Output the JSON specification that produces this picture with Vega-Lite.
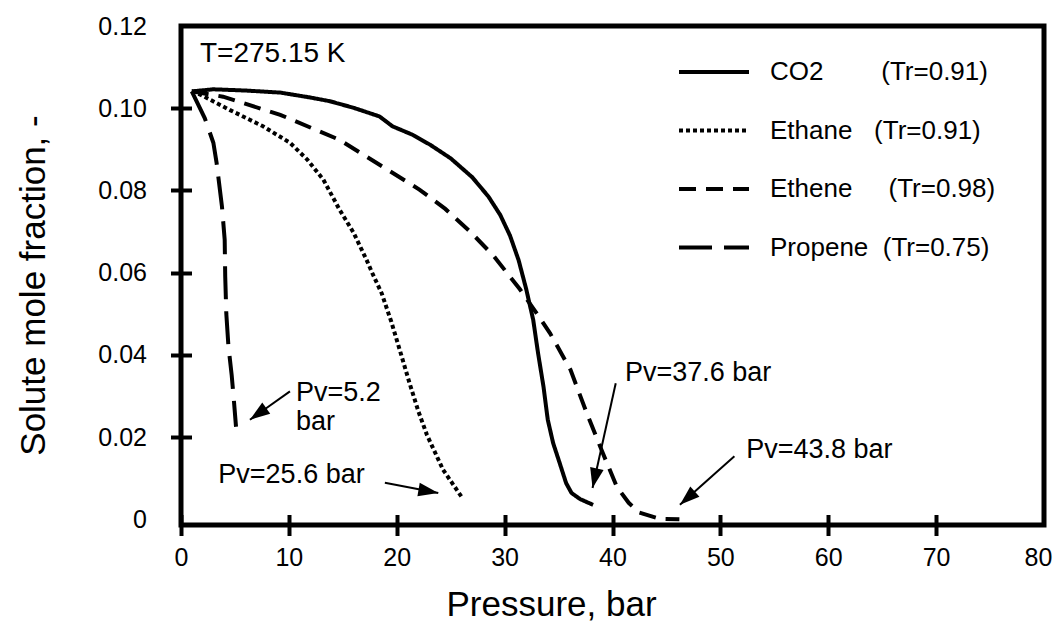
{
  "$schema": "https://vega.github.io/schema/vega-lite/v6.json",
  "width": 863,
  "height": 499,
  "autosize": {"type": "none"},
  "padding": {"left": 181, "top": 26, "right": 12, "bottom": 109},
  "background": "white",
  "config": {"view": {"stroke": "black", "strokeWidth": 5}, "font": "Liberation Sans"},
  "datasets": {
    "curves": [
      {"s": "CO2", "P": 1.0, "f": 0.1041}, {"s": "CO2", "P": 3.0, "f": 0.1046}, {"s": "CO2", "P": 6.0, "f": 0.1043}, {"s": "CO2", "P": 9.2, "f": 0.1038}, {"s": "CO2", "P": 12.0, "f": 0.1026}, {"s": "CO2", "P": 13.8, "f": 0.1017}, {"s": "CO2", "P": 16.0, "f": 0.1001}, {"s": "CO2", "P": 18.4, "f": 0.098}, {"s": "CO2", "P": 19.6, "f": 0.0956}, {"s": "CO2", "P": 21.5, "f": 0.0935}, {"s": "CO2", "P": 23.1, "f": 0.0911}, {"s": "CO2", "P": 25.0, "f": 0.0878}, {"s": "CO2", "P": 27.0, "f": 0.0832}, {"s": "CO2", "P": 28.5, "f": 0.0785}, {"s": "CO2", "P": 29.6, "f": 0.074}, {"s": "CO2", "P": 30.5, "f": 0.069}, {"s": "CO2", "P": 31.3, "f": 0.063}, {"s": "CO2", "P": 32.0, "f": 0.056}, {"s": "CO2", "P": 32.65, "f": 0.0485}, {"s": "CO2", "P": 33.1, "f": 0.0404}, {"s": "CO2", "P": 33.6, "f": 0.0323}, {"s": "CO2", "P": 34.0, "f": 0.0242}, {"s": "CO2", "P": 34.5, "f": 0.0185}, {"s": "CO2", "P": 35.1, "f": 0.0137}, {"s": "CO2", "P": 35.7, "f": 0.0088}, {"s": "CO2", "P": 36.2, "f": 0.0064}, {"s": "CO2", "P": 37.0, "f": 0.0049}, {"s": "CO2", "P": 38.2, "f": 0.0035},
      {"s": "Ethane", "P": 1.0, "f": 0.1041}, {"s": "Ethane", "P": 1.8, "f": 0.1033}, {"s": "Ethane", "P": 4.5, "f": 0.0996}, {"s": "Ethane", "P": 7.6, "f": 0.0956}, {"s": "Ethane", "P": 10.1, "f": 0.0916}, {"s": "Ethane", "P": 11.7, "f": 0.0875}, {"s": "Ethane", "P": 13.2, "f": 0.0826}, {"s": "Ethane", "P": 14.7, "f": 0.0753}, {"s": "Ethane", "P": 16.0, "f": 0.0697}, {"s": "Ethane", "P": 17.2, "f": 0.0631}, {"s": "Ethane", "P": 17.8, "f": 0.0595}, {"s": "Ethane", "P": 18.6, "f": 0.055}, {"s": "Ethane", "P": 19.5, "f": 0.048}, {"s": "Ethane", "P": 20.3, "f": 0.041}, {"s": "Ethane", "P": 21.2, "f": 0.033}, {"s": "Ethane", "P": 22.0, "f": 0.0263}, {"s": "Ethane", "P": 22.8, "f": 0.0205}, {"s": "Ethane", "P": 24.3, "f": 0.012}, {"s": "Ethane", "P": 26.0, "f": 0.0055},
      {"s": "Ethene", "P": 1.0, "f": 0.1041}, {"s": "Ethene", "P": 3.9, "f": 0.1028}, {"s": "Ethene", "P": 9.2, "f": 0.0984}, {"s": "Ethene", "P": 14.7, "f": 0.0923}, {"s": "Ethene", "P": 19.6, "f": 0.0843}, {"s": "Ethene", "P": 22.1, "f": 0.0802}, {"s": "Ethene", "P": 24.5, "f": 0.0755}, {"s": "Ethene", "P": 26.8, "f": 0.07}, {"s": "Ethene", "P": 29.0, "f": 0.064}, {"s": "Ethene", "P": 31.4, "f": 0.056}, {"s": "Ethene", "P": 33.0, "f": 0.05}, {"s": "Ethene", "P": 34.2, "f": 0.0453}, {"s": "Ethene", "P": 36.1, "f": 0.0364}, {"s": "Ethene", "P": 37.6, "f": 0.0259}, {"s": "Ethene", "P": 39.1, "f": 0.0161}, {"s": "Ethene", "P": 40.4, "f": 0.0079}, {"s": "Ethene", "P": 41.5, "f": 0.004}, {"s": "Ethene", "P": 42.5, "f": 0.0016}, {"s": "Ethene", "P": 44.4, "f": 0.0001}, {"s": "Ethene", "P": 46.2, "f": 0.0},
      {"s": "Propene", "P": 1.0, "f": 0.1041}, {"s": "Propene", "P": 2.2, "f": 0.0976}, {"s": "Propene", "P": 3.0, "f": 0.0916}, {"s": "Propene", "P": 3.3, "f": 0.0867}, {"s": "Propene", "P": 3.8, "f": 0.076}, {"s": "Propene", "P": 4.05, "f": 0.068}, {"s": "Propene", "P": 4.1, "f": 0.059}, {"s": "Propene", "P": 4.2, "f": 0.05}, {"s": "Propene", "P": 4.4, "f": 0.042}, {"s": "Propene", "P": 4.7, "f": 0.035}, {"s": "Propene", "P": 4.9, "f": 0.029}, {"s": "Propene", "P": 5.1, "f": 0.0225}
    ],
    "labels": [
      {"id": "T", "P": 1.76, "f": 0.1131, "t": "T=275.15 K"},
      {"id": "a1", "P": 10.66, "f": 0.0306, "t": "Pv=5.2"},
      {"id": "a1b", "P": 10.66, "f": 0.0236, "t": "bar"},
      {"id": "a2", "P": 3.46, "f": 0.0108, "t": "Pv=25.6 bar"},
      {"id": "a3", "P": 41.15, "f": 0.0356, "t": "Pv=37.6 bar"},
      {"id": "a4", "P": 52.4, "f": 0.0169, "t": "Pv=43.8 bar"}
    ],
    "arrows": [
      {"id": "a1", "P": 10.1, "f": 0.0311, "P2": 6.39, "f2": 0.0242},
      {"id": "a2", "P": 18.9, "f": 0.0089, "P2": 23.85, "f2": 0.0064},
      {"id": "a3", "P": 40.3, "f": 0.0331, "P2": 38.15, "f2": 0.0076},
      {"id": "a4", "P": 51.3, "f": 0.0153, "P2": 46.25, "f2": 0.0035}
    ]
  },
  "layer": [
    {
      "data": {"name": "curves"},
      "mark": {"type": "line", "strokeWidth": 4, "color": "black", "strokeCap": "butt"},
      "encoding": {
        "x": {
          "field": "P", "type": "quantitative",
          "scale": {"domain": [0, 80], "nice": false},
          "axis": {
            "title": "Pressure, bar", "values": [0, 10, 20, 30, 40, 50, 60, 70, 80],
            "domain": false, "offset": -10.5, "tickSize": 21, "tickWidth": 4, "tickColor": "black",
            "tickOpacity": {"condition": {"test": "datum.value == 80", "value": 0}, "value": 1},
            "labelOffset": {"condition": {"test": "datum.value == 80", "value": -6}, "value": 0},
            "labelFontSize": 25, "labelColor": "black", "labelPadding": 10, "labelFont": "Liberation Sans",
            "labelFlush": false, "labelOverlap": false, "grid": false,
            "titleFontSize": 35, "titleFontWeight": "normal", "titleColor": "black", "titleFont": "Liberation Sans",
            "titleX": 370, "titleY": 90, "titleBaseline": "middle", "titleAlign": "center"
          }
        },
        "y": {
          "field": "f", "type": "quantitative",
          "scale": {"domain": [-0.0014, 0.12], "nice": false, "zero": false},
          "axis": {
            "title": "Solute mole fraction, -", "values": [0, 0.02, 0.04, 0.06, 0.08, 0.1, 0.12],
            "labelExpr": "datum.value == 0 ? '0' : format(datum.value, '.2f')",
            "domain": false, "offset": -10.5, "tickSize": 21, "tickWidth": 4, "tickColor": "black",
            "tickOpacity": {"condition": {"test": "datum.value == 0 || datum.value > 0.11", "value": 0}, "value": 1},
            "labelFontSize": 25, "labelColor": "black", "labelPadding": 24, "labelFont": "Liberation Sans",
            "labelFlush": false, "labelOverlap": false, "grid": false,
            "titleFontSize": 35, "titleFontWeight": "normal", "titleColor": "black", "titleFont": "Liberation Sans",
            "titleX": -158.5, "titleY": 259, "titleAngle": -90, "titleBaseline": "middle", "titleAlign": "center"
          }
        },
        "strokeDash": {
          "field": "s", "type": "nominal",
          "scale": {"domain": ["CO2", "Ethane", "Ethene", "Propene"], "range": [[1, 0], [4, 3], [17, 10], [33, 12]]},
          "legend": {
            "orient": "none", "legendX": 513.5, "legendY": 26.5, "title": null, "padding": 0,
            "symbolType": "M-2,0L2,0", "symbolSize": 1225, "symbolStrokeWidth": 4,
            "symbolStrokeColor": "black", "symbolFillColor": "transparent",
            "labelFontSize": 26, "labelColor": "black", "labelFont": "Liberation Sans",
            "labelOffset": 36.5, "rowPadding": 25.5, "labelLimit": 400,
            "labelExpr": "datum.label == 'CO2' ? 'CO2\u00a0\u00a0\u00a0\u00a0\u00a0\u00a0\u00a0\u00a0(Tr=0.91)' : datum.label == 'Ethane' ? 'Ethane\u00a0\u00a0\u00a0(Tr=0.91)' : datum.label == 'Ethene' ? 'Ethene\u00a0\u00a0\u00a0\u00a0\u00a0(Tr=0.98)' : 'Propene\u00a0\u00a0(Tr=0.75)'"
          }
        }
      }
    },
    {
      "data": {"name": "arrows"},
      "mark": {"type": "rule", "strokeWidth": 2, "color": "black"},
      "encoding": {
        "x": {"field": "P", "type": "quantitative"},
        "y": {"field": "f", "type": "quantitative"},
        "x2": {"field": "P2"},
        "y2": {"field": "f2"}
      }
    },
    {
      "data": {"name": "arrows"},
      "transform": [{"filter": "datum.id == 'a1'"}],
      "mark": {"type": "point", "shape": "M0,0L0.55,1.6L-0.55,1.6Z", "size": 625, "filled": true, "color": "black", "opacity": 1, "angle": 234.7},
      "encoding": {"x": {"field": "P2", "type": "quantitative"}, "y": {"field": "f2", "type": "quantitative"}}
    },
    {
      "data": {"name": "arrows"},
      "transform": [{"filter": "datum.id == 'a2'"}],
      "mark": {"type": "point", "shape": "M0,0L0.55,1.6L-0.55,1.6Z", "size": 625, "filled": true, "color": "black", "opacity": 1, "angle": 99.8},
      "encoding": {"x": {"field": "P2", "type": "quantitative"}, "y": {"field": "f2", "type": "quantitative"}}
    },
    {
      "data": {"name": "arrows"},
      "transform": [{"filter": "datum.id == 'a3'"}],
      "mark": {"type": "point", "shape": "M0,0L0.55,1.6L-0.55,1.6Z", "size": 625, "filled": true, "color": "black", "opacity": 1, "angle": 192.5},
      "encoding": {"x": {"field": "P2", "type": "quantitative"}, "y": {"field": "f2", "type": "quantitative"}}
    },
    {
      "data": {"name": "arrows"},
      "transform": [{"filter": "datum.id == 'a4'"}],
      "mark": {"type": "point", "shape": "M0,0L0.55,1.6L-0.55,1.6Z", "size": 625, "filled": true, "color": "black", "opacity": 1, "angle": 228.4},
      "encoding": {"x": {"field": "P2", "type": "quantitative"}, "y": {"field": "f2", "type": "quantitative"}}
    },
    {
      "data": {"name": "labels"},
      "transform": [{"filter": "datum.id == 'T'"}],
      "mark": {"type": "text", "align": "left", "baseline": "middle", "fontSize": 28, "font": "Liberation Sans", "color": "black"},
      "encoding": {"x": {"field": "P", "type": "quantitative"}, "y": {"field": "f", "type": "quantitative"}, "text": {"field": "t"}}
    },
    {
      "data": {"name": "labels"},
      "transform": [{"filter": "datum.id != 'T'"}],
      "mark": {"type": "text", "align": "left", "baseline": "middle", "fontSize": 27, "font": "Liberation Sans", "color": "black"},
      "encoding": {"x": {"field": "P", "type": "quantitative"}, "y": {"field": "f", "type": "quantitative"}, "text": {"field": "t"}}
    }
  ]
}
